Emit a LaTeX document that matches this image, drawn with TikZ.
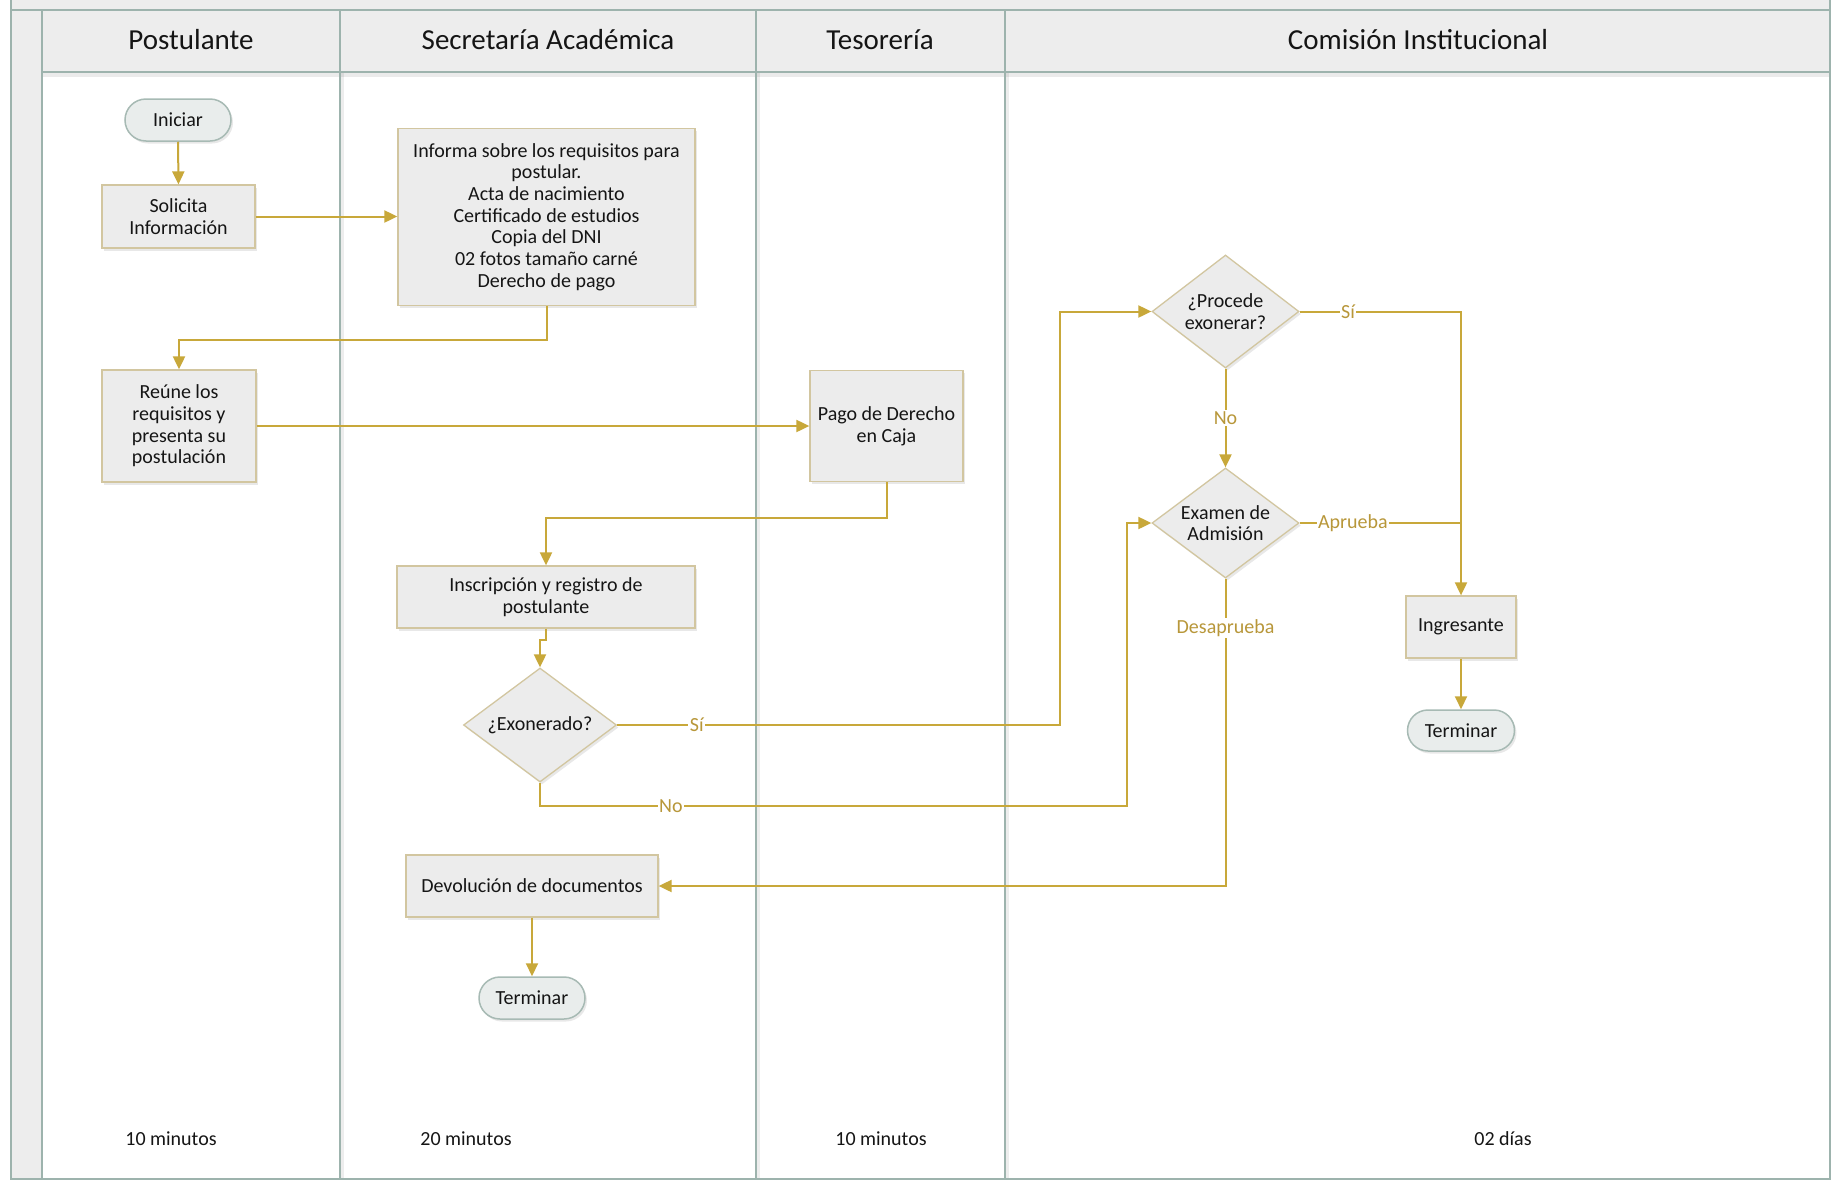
\documentclass[tikz,border=0pt]{standalone}
\usepackage{fontspec}
\setmainfont{Carlito}
\usetikzlibrary{arrows.meta,shapes.geometric,shapes.misc,shadows}

\definecolor{flowc}{HTML}{C8A83A}
\definecolor{lblc}{HTML}{B8973A}
\definecolor{boxline}{HTML}{D2C6A0}
\definecolor{boxfill}{HTML}{ECECEC}
\definecolor{termline}{HTML}{A7BAB4}
\definecolor{termfill}{HTML}{E9EDEC}
\definecolor{laneline}{HTML}{9DB3AD}
\definecolor{hdrfill}{HTML}{EDEDED}
\definecolor{txt}{HTML}{151515}

\newcommand\bodyfont{\fontsize{20}{21.7}\selectfont}
\newcommand\headfont{\fontsize{29}{32}\selectfont}

\begin{document}
\begin{tikzpicture}[x=1pt,y=-1pt,
  lane/.style={draw=laneline, line width=1.8pt},
  lanetitle/.style={font=\headfont, text=txt, anchor=center},
  timelbl/.style={font=\bodyfont, text=txt, anchor=center},
  softshadow/.style={drop shadow={shadow xshift=2pt, shadow yshift=-2.5pt, opacity=0.18}},
  proc/.style={rectangle, draw=boxline, fill=boxfill, line width=1.3pt, align=center,
    font=\bodyfont, text=txt, inner sep=2pt, softshadow},
  term/.style={rounded rectangle, draw=termline, fill=termfill, line width=1.5pt,
    font=\bodyfont, text=txt, inner sep=2pt, softshadow},
  decision/.style={diamond, aspect=1.3, inner sep=0pt, draw=boxline, fill=boxfill,
    line width=1.3pt, align=center, font=\bodyfont, text=txt, softshadow},
  flow/.style={draw=flowc, line width=2pt, -{Triangle[length=13pt,width=12pt]}},
  link/.style={draw=flowc, line width=2pt},
  lbl/.style={fill=white, text=lblc, font=\bodyfont, inner sep=1.5pt},
]
\useasboundingbox (0,0) rectangle (1837,1181);
\fill[white] (0,0) rectangle (1837,1181);

% pool: top bar, left strip and lane header band
\fill[hdrfill] (11,0) rectangle (1830,10);
\fill[hdrfill] (11,0) rectangle (42,1179);
\fill[hdrfill] (42,10) rectangle (1830,72);
\fill[black, opacity=0.08] (42,73) rectangle (1830,77);
\foreach \lx in {340,756,1005} {
  \fill[black, opacity=0.07] (\lx+1,72) rectangle (\lx+4,1179);
}

% pool frame and lane dividers
\draw[lane] (11,0) -- (11,1179) -- (1830,1179) -- (1830,0);
\draw[lane] (11,10) -- (1830,10);
\draw[lane] (42,10) -- (42,1179);
\draw[lane] (42,72) -- (1830,72);
\foreach \lx in {340,756,1005} {
  \draw[lane] (\lx,10) -- (\lx,1179);
}

% lane titles
\node[lanetitle] (hPost) at (191,40) {Postulante};
\node[lanetitle] (hSec)  at (548,40) {Secretaría Académica};
\node[lanetitle] (hTes)  at (880,40) {Tesorería};
\node[lanetitle] (hCom)  at (1418,40) {Comisión Institucional};

% lane times
\node[timelbl] (tPost) at (171,1139) {10 minutos};
\node[timelbl] (tSec)  at (466,1139) {20 minutos};
\node[timelbl] (tTes)  at (881,1139) {10 minutos};
\node[timelbl] (tCom)  at (1503,1139) {02 días};

% steps
\node[term, minimum width=110pt, minimum height=42pt] (iniciar) at (178,120) {Iniciar};
\node[proc, minimum width=153pt, minimum height=63pt] (solicita) at (178.5,216.5) {Solicita\\Información};
\node[proc, minimum width=297pt, minimum height=177pt] (informa) at (546.5,217)
  {Informa sobre los requisitos para\\postular.\\Acta de nacimiento\\Certificado de estudios\\Copia del DNI\\02 fotos tamaño carné\\Derecho de pago};
\node[proc, minimum width=154pt, minimum height=112pt] (reune) at (179,426) {Reúne los\\requisitos y\\presenta su\\postulación};
\node[proc, minimum width=153pt, minimum height=111pt] (pago) at (886.5,426) {Pago de Derecho\\en Caja};
\node[proc, minimum width=298pt, minimum height=62pt] (inscripcion) at (546,597) {Inscripción y registro de\\postulante};
\node[decision, minimum width=153pt, minimum height=114pt] (exonerado) at (540,725) {¿Exonerado?};
\node[proc, minimum width=252pt, minimum height=62pt] (devolucion) at (532,886) {Devolución de documentos};
\node[term, minimum width=110pt, minimum height=42pt] (termA) at (532,998) {Terminar};
\node[decision, minimum width=147pt, minimum height=113pt] (procede) at (1225.5,311.5) {¿Procede\\exonerar?};
\node[decision, minimum width=147pt, minimum height=110pt] (examen) at (1225.5,523) {Examen de\\Admisión};
\node[proc, minimum width=110pt, minimum height=62pt] (ingresante) at (1461,627) {Ingresante};
\node[term, minimum width=111pt, minimum height=41pt] (termB) at (1461,730.5) {Terminar};

% bend points of the routed connectors
\coordinate (j1) at (0,340);
\coordinate (j2) at (0,518);
\coordinate (j3) at (0,640);
\coordinate (j4) at (1060,0);
\coordinate (j5) at (1127,806);

% connectors
\draw[flow] (iniciar.south) -- (solicita.north);
\draw[flow] (solicita.east) -- (informa.west |- solicita.east);
\draw[flow] (informa.south) -- (informa.south |- j1) -| (reune.north);
\draw[flow] (reune.east) -- (pago.west |- reune.east);
\draw[flow] (pago.south) -- (pago.south |- j2) -| (inscripcion.north);
\draw[flow] (inscripcion.south) -- (inscripcion.south |- j3) -| (exonerado.north);
\draw[flow] (exonerado.east) -- node[lbl, pos=0.18] {Sí} (exonerado.east -| j4) |- (procede.west);
\draw[flow] (exonerado.south) -- (exonerado.south |- j5) -- node[lbl, pos=0.223] {No} (j5) |- (examen.west);
\draw[flow] (procede.south) -- node[lbl, pos=0.5] {No} (examen.north);
\draw[flow] (procede.east) -- node[lbl, pos=0.3] {Sí} (procede.east -| ingresante.north) -- (ingresante.north);
\draw[link] (examen.east) -- node[lbl, pos=0.33] {Aprueba} (examen.east -| ingresante.north);
\draw[flow] (examen.south) -- node[lbl, pos=0.16] {Desaprueba} (examen.south |- devolucion.east) -- (devolucion.east);
\draw[flow] (devolucion.south) -- (termA.north);
\draw[flow] (ingresante.south) -- (termB.north);
\end{tikzpicture}
\end{document}
